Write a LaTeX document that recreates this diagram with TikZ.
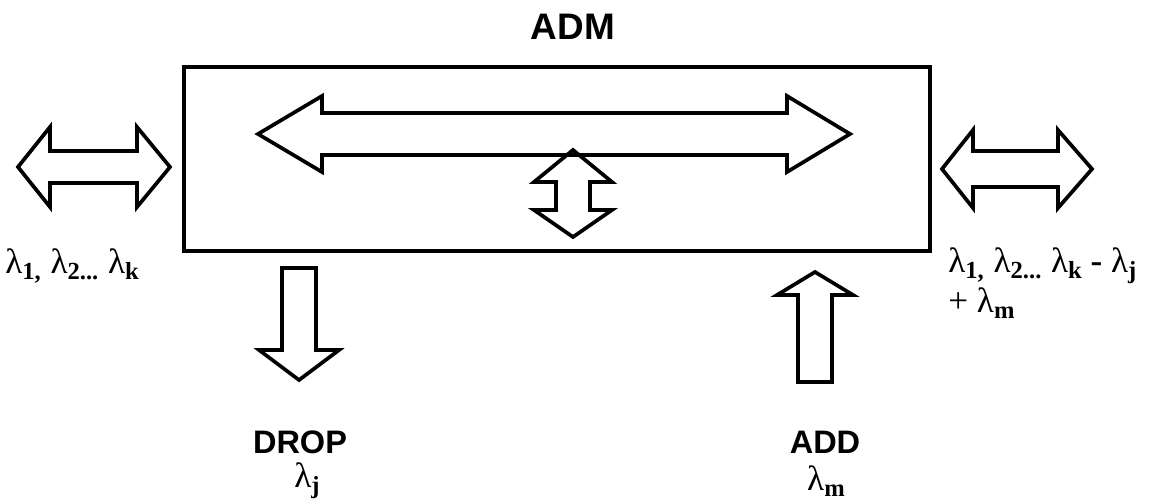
\documentclass[tikz,border=0pt]{standalone}
\usepackage{fontspec}
\setmainfont{Liberation Serif}
\setsansfont{Liberation Sans}
\usepackage{tikz}
\newcommand{\lsub}[1]{\raisebox{-0.4ex}{\fontsize{14}{15}\selectfont\bfseries #1}}

\begin{document}
\begin{tikzpicture}[line join=miter,
            frame/.style={draw=black, line width=2.6pt},
            blk/.style={draw=black, line width=2.1pt},
            title/.style={font=\sffamily\bfseries\fontsize{18.5}{20}\selectfont, inner sep=0pt},
            lam/.style={font=\fontsize{20}{22}\selectfont, inner sep=0pt}]

            \useasboundingbox (0,0) rectangle (23.1,-10.08);

            % caixa do ADM
            \node[title, font=\sffamily\bfseries\fontsize{21}{24}\selectfont] (adm) at (11.46,-0.54) {ADM};
            \draw[frame] (3.68,-1.34) rectangle (18.6,-5.02);

            % setas dentro da caixa
            \draw[blk] (5.16,-2.68) -- (6.44,-1.92) -- (6.44,-2.26) -- (15.74,-2.26)
                -- (15.74,-1.92) -- (17.0,-2.68) -- (15.74,-3.44) -- (15.74,-3.10)
                -- (6.44,-3.10) -- (6.44,-3.44) -- cycle;
            \draw[blk] (11.46,-3.0) -- (12.24,-3.64) -- (11.80,-3.64) -- (11.80,-4.2)
                -- (12.24,-4.2) -- (11.46,-4.74) -- (10.68,-4.2) -- (11.12,-4.2)
                -- (11.12,-3.64) -- (10.68,-3.64) -- cycle;

            % entrada e saida da linha
            \draw[blk] (0.36,-3.34) -- (1.0,-2.54) -- (1.0,-3.02) -- (2.74,-3.02)
                -- (2.74,-2.54) -- (3.4,-3.34) -- (2.74,-4.14) -- (2.74,-3.66)
                -- (1.0,-3.66) -- (1.0,-4.14) -- cycle;
            \draw[blk] (18.84,-3.38) -- (19.46,-2.60) -- (19.46,-3.02) -- (21.16,-3.02)
                -- (21.16,-2.60) -- (21.84,-3.38) -- (21.16,-4.16) -- (21.16,-3.74)
                -- (19.46,-3.74) -- (19.46,-4.16) -- cycle;

            \node[lam, anchor=west] (inl) at (0.1,-5.32)
                {λ\lsub{1,}\;λ\lsub{2...}\;λ\lsub{k}};
            \node[lam, anchor=west] (outl) at (18.96,-5.32)
                {λ\lsub{1,}\;λ\lsub{2...}\;λ\lsub{k} \textbf{-} λ\lsub{j}};
            \node[lam, anchor=west] (outm) at (18.96,-6.06) {+ λ\lsub{m}};

            % drop e add
            \draw[blk] (5.64,-5.36) -- (6.32,-5.36) -- (6.32,-7.0) -- (6.78,-7.0)
                -- (5.98,-7.6) -- (5.18,-7.0) -- (5.64,-7.0) -- cycle;
            \draw[blk] (15.96,-7.64) -- (16.64,-7.64) -- (16.64,-5.9) -- (17.06,-5.9)
                -- (16.3,-5.44) -- (15.54,-5.9) -- (15.96,-5.9) -- cycle;

            \node[title] (drop) at (6.0,-8.84) {DROP};
            \node[lam] (dropl) at (6.14,-9.62) {λ\lsub{j}};
            \node[title] (add) at (16.5,-8.84) {ADD};
            \node[lam] (addl) at (16.52,-9.62) {λ\lsub{m}};
        \end{tikzpicture}
\end{document}
